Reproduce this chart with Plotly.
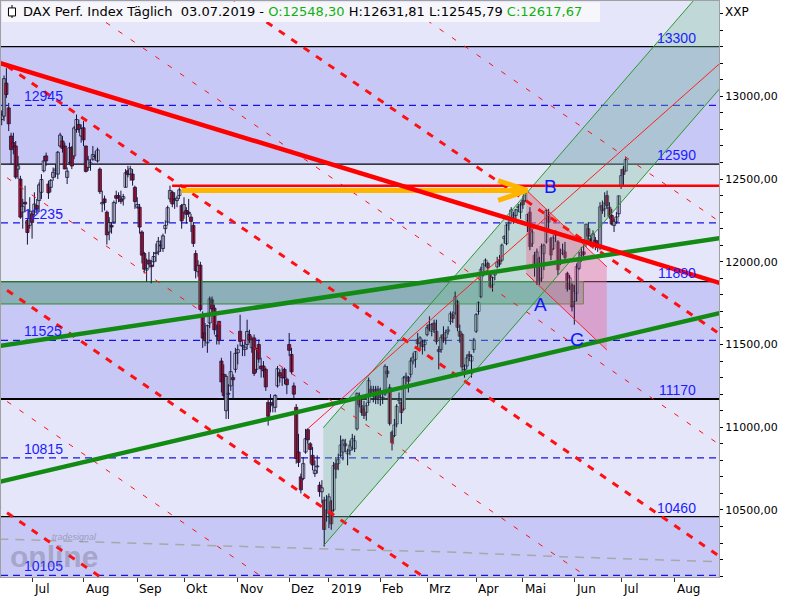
import plotly.graph_objects as go
import pandas as pd

# ---------------- data ----------------
holidays = ["2018-12-24", "2018-12-25", "2018-12-26", "2018-12-31",
            "2019-01-01", "2019-04-19", "2019-04-22", "2019-05-01"]
month_names = ["2019", "Feb", "Mrz", "Apr", "Mai", "Jun", "Jul", "Aug", "Sep", "Okt", "Nov", "Dez"]
y_tick_vals = [10500, 11000, 11500, 12000, 12500, 13000]

# (open, high, low, close) per trading day
ohlc_2018_06 = [(12860, 12915, 12825, 12890), (12880, 13126, 12850, 13107), (13080, 13170, 12990, 13011),
                (12930, 12960, 12790, 12834), (12760, 12780, 12590, 12678), (12720, 12780, 12650, 12695),
                (12700, 12730, 12500, 12512), (12560, 12640, 12500, 12580), (12500, 12520, 12260, 12270),
                (12300, 12380, 12200, 12335), (12360, 12460, 12300, 12349), (12250, 12260, 12104, 12177),
                (12220, 12390, 12200, 12306)]
ohlc_2018_07 = [(12290, 12310, 12140, 12238), (12300, 12420, 12280, 12349), (12340, 12380, 12290, 12318),
                (12370, 12480, 12300, 12465), (12420, 12530, 12380, 12497), (12550, 12640, 12540, 12610),
                (12640, 12660, 12580, 12610), (12470, 12490, 12380, 12417), (12450, 12500, 12420, 12492),
                (12510, 12570, 12490, 12541), (12550, 12590, 12510, 12561), (12530, 12670, 12500, 12662),
                (12700, 12780, 12690, 12766), (12730, 12760, 12660, 12686), (12700, 12720, 12560, 12561),
                (12510, 12570, 12470, 12548), (12600, 12720, 12590, 12689), (12690, 12700, 12560, 12579),
                (12640, 12820, 12620, 12809), (12800, 12890, 12780, 12860), (12830, 12860, 12780, 12799),
                (12760, 12830, 12720, 12805)]
ohlc_2018_08 = [(12810, 12850, 12700, 12737), (12700, 12700, 12540, 12546), (12570, 12640, 12550, 12616),
                (12590, 12620, 12550, 12598), (12620, 12700, 12610, 12648), (12640, 12670, 12610, 12634),
                (12610, 12690, 12600, 12676), (12560, 12570, 12410, 12424), (12350, 12430, 12300, 12358),
                (12380, 12400, 12310, 12358), (12300, 12310, 12104, 12163), (12180, 12270, 12130, 12237),
                (12220, 12240, 12170, 12210), (12240, 12370, 12230, 12358), (12400, 12430, 12350, 12384),
                (12400, 12420, 12360, 12385), (12380, 12430, 12350, 12365), (12380, 12410, 12340, 12394),
                (12450, 12560, 12450, 12538), (12550, 12580, 12510, 12527), (12530, 12580, 12490, 12562),
                (12530, 12560, 12460, 12494), (12450, 12460, 12320, 12364)]
ohlc_2018_09 = [(12330, 12390, 12320, 12346), (12330, 12350, 12170, 12210), (12180, 12190, 11990, 12040),
                (12050, 12060, 11930, 11955), (11950, 12020, 11880, 11960), (12010, 12060, 11960, 11986),
                (11980, 12010, 11870, 11970), (12000, 12060, 11970, 12032), (12050, 12110, 12000, 12055),
                (12060, 12150, 12040, 12124), (12100, 12130, 12060, 12096), (12080, 12170, 12060, 12157),
                (12200, 12250, 12170, 12220), (12240, 12340, 12220, 12327), (12380, 12460, 12360, 12431),
                (12420, 12430, 12330, 12350), (12380, 12420, 12320, 12374), (12370, 12400, 12330, 12385),
                (12400, 12450, 12380, 12435), (12340, 12350, 12200, 12247)]
ohlc_2018_10 = [(12300, 12390, 12260, 12346), (12310, 12330, 12230, 12287), (12300, 12380, 12270, 12290),
                (12270, 12290, 12180, 12244), (12220, 12240, 12090, 12111), (12050, 12070, 11900, 11947),
                (11940, 12010, 11910, 11977), (11980, 12000, 11700, 11712), (11680, 11700, 11480, 11539),
                (11570, 11630, 11490, 11523), (11510, 11620, 11450, 11614), (11630, 11790, 11600, 11776),
                (11770, 11790, 11680, 11715), (11720, 11740, 11560, 11589), (11550, 11620, 11500, 11553),
                (11640, 11640, 11500, 11524), (11400, 11420, 11210, 11274), (11320, 11380, 11170, 11191),
                (11100, 11320, 11050, 11307), (11200, 11260, 11050, 11201), (11250, 11460, 11220, 11336),
                (11300, 11320, 11170, 11287), (11350, 11480, 11330, 11447)]
ohlc_2018_11 = [(11450, 11500, 11380, 11469), (11580, 11680, 11490, 11519), (11490, 11520, 11430, 11494),
                (11470, 11520, 11430, 11484), (11500, 11650, 11470, 11579), (11560, 11590, 11510, 11527),
                (11480, 11550, 11450, 11529), (11540, 11560, 11310, 11325), (11350, 11480, 11330, 11472),
                (11500, 11530, 11390, 11412), (11370, 11420, 11300, 11353), (11370, 11400, 11300, 11341),
                (11350, 11360, 11220, 11244), (11150, 11170, 11010, 11066), (11130, 11200, 11090, 11138),
                (11150, 11170, 11090, 11137), (11120, 11200, 11090, 11192), (11250, 11370, 11240, 11354),
                (11330, 11350, 11270, 11309), (11300, 11360, 11250, 11299), (11350, 11360, 11260, 11298),
                (11290, 11300, 11200, 11257)]
ohlc_2018_12 = [(11500, 11570, 11430, 11465), (11440, 11480, 11320, 11335), (11250, 11270, 11170, 11200),
                (11120, 11140, 10780, 10811), (10850, 10960, 10760, 10788), (10700, 10720, 10600, 10622),
                (10690, 10820, 10680, 10780), (10850, 10990, 10840, 10931), (10985, 10995, 10900, 10924),
                (10900, 10910, 10780, 10866), (10830, 10880, 10740, 10772), (10720, 10800, 10700, 10740),
                (10760, 10830, 10720, 10766), (10650, 10670, 10580, 10611), (10610, 10680, 10540, 10634),
                (10560, 10580, 10279, 10382), (10500, 10590, 10430, 10559)]
ohlc_2019_01 = [(10480, 10600, 10390, 10580), (10550, 10560, 10380, 10416), (10500, 10790, 10490, 10768),
                (10780, 10820, 10690, 10747), (10780, 10840, 10740, 10804), (10830, 10950, 10820, 10893),
                (10850, 10930, 10800, 10921), (10900, 10930, 10850, 10888), (10840, 10870, 10770, 10856),
                (10860, 10920, 10830, 10892), (10880, 10960, 10860, 10931), (10870, 10950, 10850, 10918),
                (10990, 11210, 10980, 11205), (11190, 11210, 11120, 11136), (11130, 11190, 11070, 11090),
                (11110, 11160, 11050, 11071), (11090, 11150, 11040, 11130), (11150, 11300, 11130, 11282),
                (11230, 11250, 11190, 11210), (11200, 11250, 11150, 11218), (11230, 11250, 11140, 11181),
                (11230, 11250, 11140, 11173)]
ohlc_2019_02 = [(11170, 11240, 11130, 11180), (11180, 11210, 11140, 11176), (11200, 11380, 11190, 11368),
                (11340, 11370, 11300, 11324), (11240, 11260, 11010, 11022), (10970, 10980, 10860, 10906),
                (10950, 11050, 10940, 11014), (11020, 11140, 11000, 11126), (11160, 11210, 11140, 11167),
                (11150, 11170, 11020, 11089), (11110, 11310, 11100, 11299), (11300, 11330, 11260, 11309),
                (11300, 11310, 11210, 11278), (11320, 11420, 11300, 11401), (11400, 11450, 11380, 11423),
                (11410, 11460, 11360, 11457), (11530, 11570, 11480, 11505), (11510, 11550, 11470, 11540),
                (11520, 11530, 11440, 11487), (11500, 11530, 11460, 11516)]
ohlc_2019_03 = [(11560, 11620, 11550, 11602), (11620, 11670, 11580, 11593), (11580, 11630, 11550, 11620),
                (11630, 11650, 11570, 11588), (11580, 11650, 11500, 11518), (11470, 11490, 11350, 11457),
                (11470, 11560, 11450, 11543), (11560, 11610, 11510, 11524), (11540, 11590, 11500, 11572),
                (11580, 11610, 11560, 11588), (11640, 11700, 11620, 11686), (11680, 11700, 11630, 11657),
                (11690, 11820, 11680, 11788), (11760, 11770, 11580, 11604), (11580, 11620, 11510, 11550),
                (11560, 11570, 11340, 11364), (11350, 11380, 11300, 11346), (11370, 11440, 11350, 11419),
                (11440, 11460, 11400, 11428), (11400, 11440, 11300, 11428), (11470, 11540, 11450, 11526)]
ohlc_2019_04 = [(11580, 11690, 11570, 11681), (11700, 11760, 11680, 11754), (11790, 11970, 11780, 11954),
                (11930, 11990, 11910, 11988), (11980, 12020, 11970, 12010), (11990, 12000, 11940, 11963),
                (11930, 11940, 11840, 11850), (11860, 11910, 11820, 11905), (11920, 11950, 11890, 11935),
                (11970, 12030, 11960, 11999), (12010, 12040, 11970, 11985), (12010, 12110, 12000, 12101),
                (12140, 12160, 12110, 12153), (12110, 12230, 12100, 12222), (12230, 12250, 12190, 12236),
                (12260, 12330, 12250, 12313), (12270, 12300, 12230, 12282), (12280, 12320, 12250, 12315),
                (12330, 12350, 12300, 12328), (12300, 12360, 12260, 12344)]
ohlc_2019_05 = [(12370, 12400, 12320, 12345), (12370, 12437, 12360, 12413), (12250, 12290, 12180, 12287),
                (12300, 12330, 12070, 12093), (12110, 12200, 12090, 12180), (12040, 12060, 11910, 11973),
                (11980, 12080, 11860, 12060), (12020, 12030, 11860, 11877), (11900, 12110, 11880, 12093),
                (12050, 12110, 11950, 12100), (12120, 12320, 12110, 12310), (12280, 12320, 12200, 12239),
                (12140, 12150, 12010, 12041), (12080, 12160, 12070, 12144), (12160, 12190, 12120, 12168),
                (12120, 12130, 11920, 11952), (11990, 12080, 11980, 12011), (12050, 12110, 12040, 12071),
                (12060, 12120, 12000, 12027), (11930, 11940, 11820, 11837), (11870, 11920, 11830, 11903),
                (11860, 11870, 11700, 11727)]
ohlc_2019_06 = [(11760, 11860, 11620, 11820), (11810, 11990, 11760, 11971), (11960, 12060, 11950, 12015),
                (12040, 12090, 12000, 12059), (12060, 12110, 12010, 12045), (12120, 12230, 12090, 12227),
                (12200, 12240, 12130, 12155), (12140, 12160, 12090, 12116), (12100, 12190, 12080, 12169),
                (12130, 12150, 12070, 12096), (12110, 12130, 12060, 12086), (12100, 12360, 12070, 12332),
                (12340, 12370, 12290, 12309), (12320, 12420, 12270, 12355), (12400, 12430, 12320, 12340),
                (12330, 12360, 12260, 12274), (12280, 12320, 12220, 12228), (12220, 12260, 12180, 12245),
                (12240, 12300, 12230, 12271), (12290, 12400, 12270, 12399)]
ohlc_2019_07 = [(12460, 12560, 12440, 12521), (12560, 12580, 12460, 12528),
                (12548.30, 12631.81, 12545.79, 12617.67)]

# horizontal levels
levels_solid = [13300, 12590, 11880, 11170, 10460]
levels_dashed = [12945, 12235, 11525, 10815, 10105]
dark_bands = [(12590, 13300), (11170, 11880), (None, 10460)]

# drawn lines: (day index, price) anchors
trend_red_x, trend_red_y = [0, 300], [13198, 11903]
green_up_x, green_up_y = [0, 300], [11493, 12128]
green_lo_x, green_lo_y = [0, 300], [10673, 11666]
fork_slope = -9.72
fork_thick_y0 = [14550, 13205, 11850, 10505]
fork_thin_y0 = [15228, 13880, 12530, 11178]
resist_x, resist_y = [72.9, 312], 12460
arrow_x, arrow_y = [77, 224.8], 12431
channel_x, channel_lo_y, channel_width = [137.6, 330], [10282, 13418], 715
mid_red_x, mid_red_y = [131.2, 310], [10994, 13233]
pink_x, pink_top_y, pink_bot_y = [224.4, 258.9], [12434, 11970], [11930, 11467]
box_x, box_y = [-3, 248.9], [11745, 11880]
gray_x = [-1, 85, 153, 188, 239, 312]
gray_y = [10324, 10288, 10258, 10248, 10218, 10185]
abc_labels = [("A", 230.6, 11739), ("B", 234.8, 12454), ("C", 246.0, 11529)]

X_RANGE = [-0.3, 306.9]
Y_RANGE = [10094.9, 13576.2]
X_EXT = [-3, 312]

# ---------------- build ----------------
ohlc = (ohlc_2018_06 + ohlc_2018_07 + ohlc_2018_08 + ohlc_2018_09 + ohlc_2018_10 + ohlc_2018_11 +
        ohlc_2018_12 + ohlc_2019_01 + ohlc_2019_02 + ohlc_2019_03 + ohlc_2019_04 + ohlc_2019_05 +
        ohlc_2019_06 + ohlc_2019_07)
xi = list(range(len(ohlc)))

days = pd.bdate_range("2018-06-13", "2019-09-30")
days = days[~days.isin(pd.to_datetime(holidays))]
tick_pos, tick_txt = [], []
prev = None
for i, d in enumerate(days):
    key = (d.year, d.month)
    if prev is not None and key != prev and i <= X_RANGE[1]:
        tick_pos.append(i)
        tick_txt.append(month_names[d.month - 1])
    prev = key


def extend(xs, ys):
    """straight line through two anchors, stretched across the whole x range"""
    k = (ys[1] - ys[0]) / (xs[1] - xs[0])
    return X_EXT, [ys[0] + k * (X_EXT[0] - xs[0]), ys[0] + k * (X_EXT[1] - xs[0])]


fig = go.Figure()
shapes = []
for lo, hi in dark_bands:
    lo = Y_RANGE[0] if lo is None else lo
    shapes.append(dict(type="rect", xref="x", yref="y", x0=X_RANGE[0], x1=X_RANGE[1], y0=lo, y1=hi,
                       fillcolor="#c8c8f6", line_width=0, layer="below"))
for lv in levels_solid:
    shapes.append(dict(type="line", xref="x", yref="y", x0=X_RANGE[0], x1=X_RANGE[1], y0=lv, y1=lv,
                       line=dict(color="black", width=2 if lv == 11170 else 1.2), layer="below"))
for lv in levels_dashed:
    shapes.append(dict(type="line", xref="x", yref="y", x0=X_RANGE[0], x1=X_RANGE[1], y0=lv, y1=lv,
                       line=dict(color="#1414e6", width=1.3, dash="7px,5px"), layer="below"))


def add_line(x, y, color, width, dash=None):
    fig.add_trace(go.Scatter(x=x, y=y, mode="lines", line=dict(color=color, width=width, dash=dash),
                             hoverinfo="skip"))


add_line(gray_x, gray_y, "#a8a8a8", 1.5, "9px,7px")

# green box
fig.add_trace(go.Scatter(x=[box_x[0], box_x[1], box_x[1], box_x[0], box_x[0]],
                         y=[box_y[0], box_y[0], box_y[1], box_y[1], box_y[0]], mode="lines",
                         fill="toself", fillcolor="rgba(60,140,100,0.42)",
                         line=dict(color="#2e8b2e", width=1), hoverinfo="skip"))
# rising channel
ch_up = [v + channel_width for v in channel_lo_y]
fig.add_trace(go.Scatter(x=[channel_x[0], channel_x[1], channel_x[1], channel_x[0], channel_x[0]],
                         y=[channel_lo_y[0], channel_lo_y[1], ch_up[1], ch_up[0], channel_lo_y[0]],
                         mode="none", fill="toself", fillcolor="rgba(120,190,150,0.35)", hoverinfo="skip"))
# pink correction box
fig.add_trace(go.Scatter(x=[pink_x[0], pink_x[1], pink_x[1], pink_x[0], pink_x[0]],
                         y=[pink_top_y[0], pink_top_y[1], pink_bot_y[1], pink_bot_y[0], pink_top_y[0]],
                         mode="none", fill="toself", fillcolor="rgba(235,110,150,0.42)", hoverinfo="skip"))

# candles: wicks + bodies
opens = [r[0] for r in ohlc]
highs = [r[1] for r in ohlc]
lows = [r[2] for r in ohlc]
closes = [r[3] for r in ohlc]
wx, wy = [], []
for i in xi:
    wx += [i, i, None]
    wy += [lows[i], highs[i], None]
fig.add_trace(go.Scatter(x=wx, y=wy, mode="lines", line=dict(color="#14143c", width=1), hoverinfo="skip"))
fig.add_trace(go.Bar(
    x=xi, base=[min(o, c) for o, c in zip(opens, closes)],
    y=[max(abs(c - o), 5) for o, c in zip(opens, closes)], width=1.35,
    marker=dict(color=["white" if c >= o else "#ee1020" for o, c in zip(opens, closes)],
                line=dict(color="#14143c", width=0.8)),
    hoverinfo="skip"))

# parallel descending lines
for y0 in fork_thin_y0:
    add_line(*extend([0, 1], [y0, y0 + fork_slope]), "#ff1010", 1, "5px,10px")
for y0 in fork_thick_y0:
    add_line(*extend([0, 1], [y0, y0 + fork_slope]), "#ff1010", 3, "7px,8px")

# channel edges + inner red line
add_line(channel_x, channel_lo_y, "#2a9a2a", 1)
add_line(channel_x, ch_up, "#2a9a2a", 1)
add_line(mid_red_x, mid_red_y, "#ff2020", 1)
add_line(pink_x, pink_top_y, "#ff2020", 1)
add_line(pink_x, pink_bot_y, "#ff2020", 1)

# thick green lines
add_line(*extend(green_up_x, green_up_y), "#138a13", 4.5)
add_line(*extend(green_lo_x, green_lo_y), "#138a13", 4.5)
# resistance + arrow
add_line(resist_x, [resist_y, resist_y], "#ff0000", 2.5)
add_line([arrow_x[0], arrow_x[1] - 2], [arrow_y, arrow_y], "#ffb400", 5)
add_line([arrow_x[1] - 12.4, arrow_x[1], arrow_x[1] - 12.4], [arrow_y + 60, arrow_y, arrow_y - 60], "#ffb400", 5)
# main red trendline
add_line(*extend(trend_red_x, trend_red_y), "#ff0000", 4.5)

ann = []
for lv in levels_solid:
    ann.append(dict(x=297.9, y=lv, xref="x", yref="y", text=str(lv), showarrow=False, xanchor="right",
                    yanchor="bottom", yshift=-1, font=dict(family="Liberation Sans", size=14, color="#1c1cff")))
for lv in levels_dashed:
    ann.append(dict(x=8.7, y=lv, xref="x", yref="y", text=str(lv), showarrow=False, xanchor="left",
                    yanchor="bottom", yshift=-1, font=dict(family="Liberation Sans", size=14, color="#1c1cff")))
for t, x, y in abc_labels:
    ann.append(dict(x=x, y=y, xref="x", yref="y", text=t, showarrow=False,
                    font=dict(family="Liberation Sans", size=19, color="#1515ff")))
for p, t in zip(tick_pos, tick_txt):
    ann.append(dict(x=p, y=0, xref="x", yref="paper", text=t, showarrow=False, xanchor="left",
                    yanchor="top", xshift=0, yshift=-3, font=dict(family="DejaVu Sans", size=12, color="black")))

# header
shapes.append(dict(type="rect", xref="paper", yref="paper", x0=0.0014, x1=0.8343, y0=0.9635, y1=0.998,
                   fillcolor="#f6f6fb", line_width=0, layer="above"))
shapes.append(dict(type="line", xref="paper", yref="paper", x0=0.0153, x1=0.0153, y0=0.9705, y1=0.993,
                   line=dict(color="black", width=1), layer="above"))
shapes.append(dict(type="rect", xref="paper", yref="paper", x0=0.0104, x1=0.0202, y0=0.9740, y1=0.9880,
                   fillcolor="white", line=dict(color="black", width=1), layer="above"))
ann.append(dict(x=0.0279, y=0.981, xref="paper", yref="paper", xanchor="left", yanchor="middle", showarrow=False,
                text="DAX Perf. Index Täglich\u00a0\u00a003.07.2019 - <span style='color:#10b010'>O:12548,30</span>"
                     " H:12631,81 L:12545,79 <span style='color:#10b010'>C:12617,67</span>",
                font=dict(family="DejaVu Sans", size=13, color="black")))
ann.append(dict(x=1.005, y=0.981, xref="paper", yref="paper", xanchor="left", yanchor="middle", showarrow=False,
                text="XXP", font=dict(family="DejaVu Sans", size=12, color="black")))
# watermark (tradesignal online logo)
ann.append(dict(x=0.010, y=0.036, xref="paper", yref="paper", xanchor="left", yanchor="middle", showarrow=False,
                text="<b>online</b>", font=dict(family="Liberation Sans", size=30, color="rgba(110,110,130,0.40)")))
ann.append(dict(x=0.068, y=0.069, xref="paper", yref="paper", xanchor="left", yanchor="middle", showarrow=False,
                text="<i>tradesignal</i>", font=dict(family="Liberation Sans", size=9, color="rgba(110,110,130,0.5)")))

fig.update_layout(
    width=800, height=600, margin=dict(l=1, r=81, t=1, b=23),
    paper_bgcolor="white", plot_bgcolor="#e6e6fa", showlegend=False, hovermode=False,
    separators=",.",
    shapes=shapes, annotations=ann,
    xaxis=dict(range=X_RANGE, type="linear", showgrid=False, zeroline=False,
               tickmode="array", tickvals=tick_pos, showticklabels=False, ticks="outside", ticklen=4,
               tickcolor="#333", showline=True, linecolor="#a0a0a0", mirror=True),
    yaxis=dict(range=Y_RANGE, side="right", showgrid=False, zeroline=False, tickmode="array",
               tickvals=y_tick_vals, tickformat=".2f", ticks="outside", ticklen=3, tickcolor="black",
               minor=dict(tickmode="linear", dtick=100, tick0=0, ticks="outside", ticklen=3, tickcolor="black"),
               tickfont=dict(family="DejaVu Sans", size=11, color="black"),
               showline=True, linecolor="#a0a0a0", mirror=True),
)
fig.write_html("out.html", config={"displayModeBar": False},
               post_script="document.body.style.margin='0';")
